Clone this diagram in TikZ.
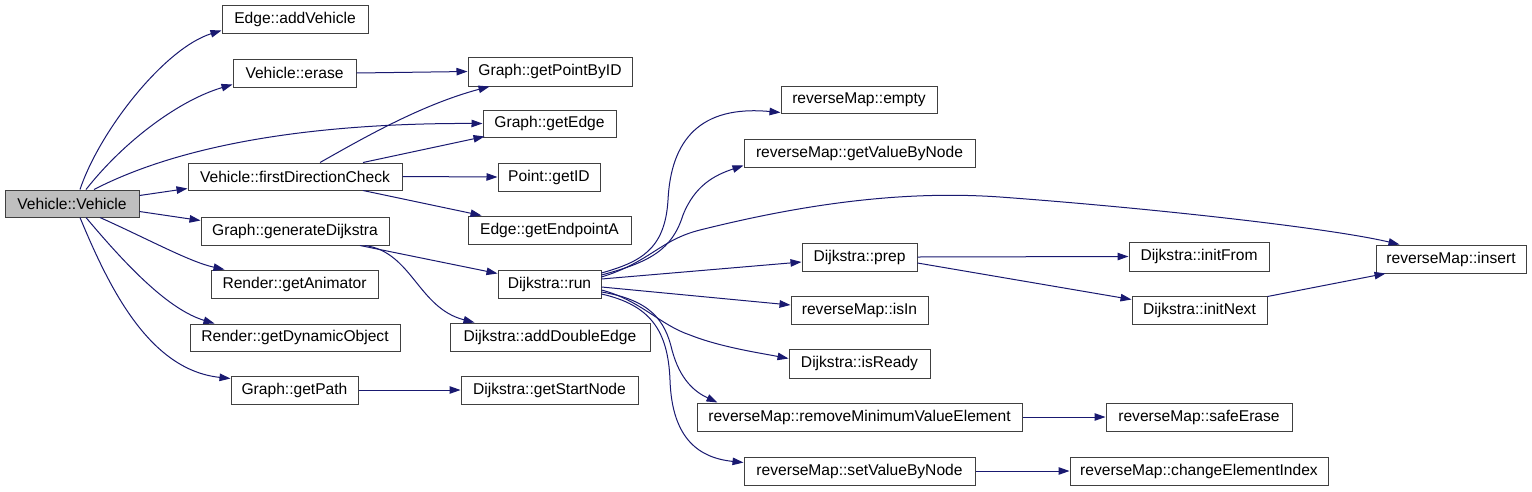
\documentclass[tikz,border=0pt]{standalone}
\usepackage{fontspec}
\setmainfont{Liberation Sans}
\usetikzlibrary{arrows.meta}
\definecolor{edgec}{HTML}{191970}
\definecolor{boxgray}{HTML}{BFBFBF}
\tikzset{
  box/.style={draw=black!75, fill=white, line width=1pt, inner sep=0pt, font=\fontsize{15.6}{18}\selectfont},
  call/.style={draw=edgec, line width=1pt, -{Triangle[length=11pt,width=7.5pt]}, fill=none},
}
\newcommand\bx[7][]{\node[box,#1,minimum width={(#5-#3)*1pt},minimum height={(#6-#4)*1pt}] (#2) at ({(#3+#5)/2},{(#4+#6)/2}) {#7};}
\begin{document}
\begin{tikzpicture}[x=1pt,y=-1pt]
\useasboundingbox[fill=white] (0,0) rectangle (1532,491);
% nodes
\bx[fill=boxgray]{VV}{5}{190}{139}{217}{Vehicle::Vehicle}
\bx{addV}{222}{5}{368}{33}{Edge::addVehicle}
\bx{erase}{233}{59}{356}{87}{Vehicle::erase}
\bx{fdc}{188}{163}{402}{190}{Vehicle::firstDirectionCheck}
\bx{gD}{201}{217}{389}{245}{Graph::generateDijkstra}
\bx{gAn}{211}{270}{378}{298}{Render::getAnimator}
\bx{gDO}{190}{324}{400}{351}{Render::getDynamicObject}
\bx{gPath}{231}{376}{358}{404}{Graph::getPath}
\bx{gPID}{468}{57}{632}{86}{Graph::getPointByID}
\bx{gEdge}{483}{110}{616}{137}{Graph::getEdge}
\bx{pID}{498}{163}{600}{191}{Point::getID}
\bx{gEA}{468}{216}{631}{244}{Edge::getEndpointA}
\bx{run}{498}{270}{601}{298}{Dijkstra::run}
\bx{aDE}{450}{323}{650}{351}{Dijkstra::addDoubleEdge}
\bx{gSN}{461}{376}{638}{404}{Dijkstra::getStartNode}
\bx{empty}{781}{86}{937}{113}{reverseMap::empty}
\bx{gVBN}{744}{139}{975}{167}{reverseMap::getValueByNode}
\bx{prep}{802}{243}{917}{271}{Dijkstra::prep}
\bx{isIn}{791}{296}{928}{324}{reverseMap::isIn}
\bx{isReady}{789}{349}{930}{378}{Dijkstra::isReady}
\bx{rMin}{697}{403}{1022}{431}{reverseMap::removeMinimumValueElement}
\bx{sVBN}{744}{457}{975}{485}{reverseMap::setValueByNode}
\bx{safe}{1106}{403}{1292}{431}{reverseMap::safeErase}
\bx{cEI}{1070}{457}{1328}{485}{reverseMap::changeElementIndex}
\bx{initFrom}{1129}{242}{1269}{271}{Dijkstra::initFrom}
\bx{initNext}{1132}{296}{1267}{324}{Dijkstra::initNext}
\bx{insert}{1376}{245}{1526}{273}{reverseMap::insert}
% edges from Vehicle::Vehicle
\draw[call] ([xshift=8pt]VV.north) .. controls (100,130) and (165,48) .. ([yshift=3pt]addV.south west);
\draw[call] ([xshift=14pt]VV.north) .. controls (125,140) and (180,100) .. ([yshift=3pt]erase.south west);
\draw[call] ([xshift=22pt]VV.north) .. controls (190,140) and (330,123) .. (gEdge.west);
\draw[call] ([yshift=8pt]VV.east) -- ([yshift=2pt]fdc.south west);
\draw[call] ([yshift=-8pt]VV.east) -- ([yshift=-4pt]gD.north west);
\draw[call] ([xshift=28pt]VV.south) .. controls (150,240) and (190,262) .. ([xshift=14pt]gAn.north west);
\draw[call] ([xshift=14pt]VV.south) .. controls (130,270) and (170,310) .. ([xshift=25pt]gDO.north west);
\draw[call] ([xshift=8pt]VV.south) .. controls (110,290) and (150,370) .. ([yshift=-3pt]gPath.north west);
% second level
\draw[call] (erase.east) -- (gPID.west);
\draw[call] ([xshift=25pt]fdc.north) .. controls (360,140) and (420,105) .. ([xshift=22pt]gPID.south west);
\draw[call] ([xshift=68pt]fdc.north) -- ([xshift=2pt,yshift=1pt]gEdge.south west);
\draw[call] (fdc.east) -- (pID.west);
\draw[call] ([xshift=68pt]fdc.south) -- ([xshift=14pt]gEA.north west);
\draw[call] ([xshift=65pt]gD.south) -- ([yshift=-4pt]run.north west);
\draw[call] ([xshift=70pt]gD.south) .. controls (412,252) and (418,308) .. ([xshift=25pt]aDE.north west);
\draw[call] (gPath.east) -- (gSN.west);
% from Dijkstra::run
\draw[call] ([yshift=11pt]run.east) .. controls (640,262) and (665,250) .. (668,200) .. controls (671,140) and (700,105) .. ([yshift=-13pt]empty.west);
\draw[call] ([yshift=9pt]run.east) .. controls (650,262) and (672,250) .. (683,215) .. controls (695,185) and (715,175) .. ([yshift=2pt]gVBN.south west);
\draw[call] ([yshift=7pt]run.east) .. controls (650,262) and (660,240) .. (700,230) .. controls (800,205) and (900,190) .. (1000,197) .. controls (1150,208) and (1330,228) .. ([xshift=24pt]insert.north west);
\draw[call] ([yshift=5pt]run.east) -- ([yshift=-5pt]prep.west);
\draw[call] ([yshift=-3pt]run.east) -- ([yshift=5pt]isIn.west);
\draw[call] ([yshift=-6pt]run.east) .. controls (640,300) and (660,325) .. (690,335) .. controls (720,347) and (760,353) .. ([yshift=5pt]isReady.west);
\draw[call] ([yshift=-8pt]run.east) .. controls (650,300) and (665,320) .. (672,350) .. controls (680,380) and (695,392) .. ([xshift=21pt]rMin.north west);
\draw[call] ([yshift=-10pt]run.east) .. controls (650,305) and (668,330) .. (670,380) .. controls (672,440) and (700,458) .. ([yshift=-6pt]sVBN.north west);
% third level
\draw[call] (prep.east) -- (initFrom.west);
\draw[call] ([yshift=-6pt]prep.east) -- ([yshift=-4pt]initNext.north west);
\draw[call] ([yshift=-1pt]initNext.north east) -- ([xshift=10pt]insert.south west);
\draw[call] (rMin.east) -- (safe.west);
\draw[call] (sVBN.east) -- (cEI.west);
\end{tikzpicture}
\end{document}
